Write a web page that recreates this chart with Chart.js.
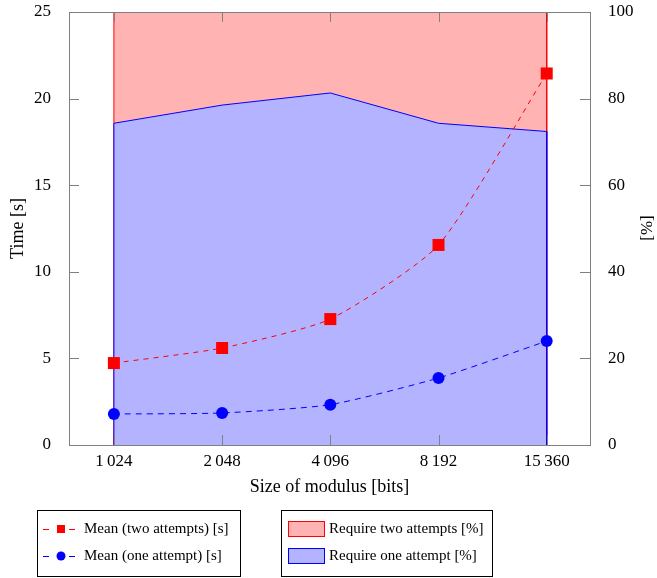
<!DOCTYPE html>
<html>
<head>
<meta charset="utf-8">
<script src="https://cdn.jsdelivr.net/npm/chart.js@4.4.1/dist/chart.umd.min.js"></script>
<style>
  html, body { margin: 0; padding: 0; background: #fff; }
  #wrap { width: 657px; height: 578px; position: relative; }
</style>
</head>
<body>
<div id="wrap"><canvas id="timeChart"></canvas></div>
<script>
// Data
const modulusSizes = ['1\u2009024', '2\u2009048', '4\u2009096', '8\u2009192', '15\u2009360'];
const meanTwoAttempts = [4.73, 5.6, 7.27, 11.55, 21.45];   // [s]
const meanOneAttempt = [1.79, 1.85, 2.33, 3.87, 6.0];      // [s]
const pctOneAttempt = [74.3, 78.5, 81.3, 74.3, 72.4];      // [%]
const pctTwoAttempts = [25.7, 21.5, 18.7, 25.7, 27.6];     // [%]
const timeTicks = [0, 5, 10, 15, 20, 25];
const pctTicks = [0, 20, 40, 60, 80, 100];

// Colors
const red = '#ff0000';
const blue = '#0000ff';
const redFill = '#ffb3b3';
const blueFill = '#b3b3ff';
const axisGray = '#808080';
const serif = "'Liberation Serif', 'DejaVu Serif', serif";

const idx = modulusSizes.map((_, i) => i);

// closed outline (vertical sides at first / last category) for the percent areas
function areaPoints(tops) {
    const pts = [{ x: 0, y: 0 }];
    tops.forEach((v, i) => pts.push({ x: i, y: v }));
    pts.push({ x: tops.length - 1, y: 0 });
    return pts;
}
const stackedTop = pctOneAttempt.map((v, i) => v + pctTwoAttempts[i]);

// keep the plot box where the reference has it
function fixVertical(width) {
    return (scale) => {
        scale.width = width;
        scale.paddingTop = 0;
        scale.paddingBottom = 0;
    };
}

// pgfplots-like frame, inward ticks and legend boxes
const framePlugin = {
    id: 'frame',
    afterDatasetsDraw(chart) {
        const { ctx, chartArea: a, scales } = chart;
        ctx.save();
        ctx.strokeStyle = axisGray;
        ctx.lineWidth = 1;
        ctx.beginPath();
        const tl = 10;
        idx.forEach(v => {
            const x = Math.round(scales.x.getPixelForValue(v)) + 0.5;
            ctx.moveTo(x, a.bottom); ctx.lineTo(x, a.bottom - tl);
            ctx.moveTo(x, a.top); ctx.lineTo(x, a.top + tl);
        });
        timeTicks.forEach(v => {
            const y = Math.round(scales.y.getPixelForValue(v)) + 0.5;
            ctx.moveTo(a.left, y); ctx.lineTo(a.left + tl, y);
        });
        pctTicks.forEach(v => {
            const y = Math.round(scales.y2.getPixelForValue(v)) + 0.5;
            ctx.moveTo(a.right, y); ctx.lineTo(a.right - tl, y);
        });
        ctx.stroke();
        ctx.strokeRect(Math.round(a.left) + 0.5, Math.round(a.top) + 0.5,
            Math.round(a.right - a.left), Math.round(a.bottom - a.top));
        ctx.restore();
    },
    afterDraw(chart) {
        const { ctx } = chart;
        ctx.save();
        // right axis title
        ctx.fillStyle = '#000';
        ctx.font = '17px ' + serif;
        ctx.textAlign = 'center';
        ctx.textBaseline = 'middle';
        ctx.translate(648, 228);
        ctx.rotate(-Math.PI / 2);
        ctx.fillText('[%]', 0, 0);
        ctx.setTransform(1, 0, 0, 1, 0, 0);

        // legend boxes
        ctx.font = '15px ' + serif;
        ctx.strokeStyle = '#000';
        ctx.lineWidth = 1;
        ctx.strokeRect(37.5, 510.5, 203, 66);
        ctx.strokeRect(281.5, 510.5, 211, 66);
        ctx.textAlign = 'left';
        const rows = [529, 556];
        const lines = [
            { label: chart.data.datasets[0].label, color: red, style: 'rect' },
            { label: chart.data.datasets[1].label, color: blue, style: 'circle' }
        ];
        lines.forEach((l, i) => {
            const y = rows[i];
            ctx.strokeStyle = l.color;
            ctx.fillStyle = l.color;
            ctx.beginPath();
            ctx.moveTo(43, y + 0.5); ctx.lineTo(49, y + 0.5);
            ctx.moveTo(69, y + 0.5); ctx.lineTo(75, y + 0.5);
            ctx.stroke();
            ctx.beginPath();
            if (l.style === 'rect') ctx.rect(57, y - 4, 8, 8);
            else ctx.arc(61, y, 4.5, 0, Math.PI * 2);
            ctx.fill();
            ctx.fillStyle = '#000';
            ctx.fillText(l.label, 84, y);
        });
        const areas = [
            { label: chart.data.datasets[3].label, fill: redFill, color: red },
            { label: chart.data.datasets[2].label, fill: blueFill, color: blue }
        ];
        areas.forEach((l, i) => {
            const y = rows[i];
            ctx.fillStyle = l.fill;
            ctx.strokeStyle = l.color;
            ctx.fillRect(288.5, y - 7.5, 36, 15);
            ctx.strokeRect(288.5, y - 7.5, 36, 15);
            ctx.fillStyle = '#000';
            ctx.fillText(l.label, 329, y);
        });
        ctx.restore();
    }
};

new Chart(document.getElementById('timeChart').getContext('2d'), {
    type: 'line',
    data: {
        datasets: [
            {
                label: 'Mean (two attempts) [s]',
                data: meanTwoAttempts.map((v, i) => ({ x: i, y: v })),
                yAxisID: 'y',
                borderColor: red,
                backgroundColor: red,
                borderWidth: 1,
                borderDash: [5, 5],
                tension: 0.2,
                pointStyle: 'rect',
                pointRadius: 8.5,
                pointBorderWidth: 0,
                fill: false,
                order: 0
            },
            {
                label: 'Mean (one attempt) [s]',
                data: meanOneAttempt.map((v, i) => ({ x: i, y: v })),
                yAxisID: 'y',
                borderColor: blue,
                backgroundColor: blue,
                borderWidth: 1,
                borderDash: [6, 5],
                tension: 0.2,
                pointStyle: 'circle',
                pointRadius: 6,
                pointBorderWidth: 0,
                fill: false,
                order: 0
            },
            {
                label: 'Require one attempt [%]',
                data: areaPoints(pctOneAttempt),
                yAxisID: 'y2',
                borderColor: blue,
                backgroundColor: blueFill,
                borderWidth: 1,
                pointRadius: 0,
                tension: 0,
                fill: 'origin',
                order: 1
            },
            {
                label: 'Require two attempts [%]',
                data: areaPoints(stackedTop),
                yAxisID: 'y2',
                borderColor: red,
                backgroundColor: redFill,
                borderWidth: 1,
                pointRadius: 0,
                tension: 0,
                fill: 'origin',
                order: 2
            }
        ]
    },
    options: {
        responsive: true,
        maintainAspectRatio: false,
        animation: false,
        layout: { padding: { top: 12, bottom: 80, left: 0, right: 0 } },
        plugins: {
            legend: { display: false },
            title: { display: false },
            tooltip: { enabled: false }
        },
        scales: {
            x: {
                type: 'linear',
                min: -0.415,
                max: 4.4,
                afterBuildTicks: (scale) => { scale.ticks = idx.map(v => ({ value: v })); },
                afterFit: (scale) => { scale.height = 53; },
                grid: { display: false },
                border: { display: false },
                ticks: {
                    color: '#000',
                    padding: -2,
                    font: { family: serif, size: 17 },
                    callback: (v) => modulusSizes[v]
                },
                title: {
                    display: true,
                    text: 'Size of modulus [bits]',
                    color: '#000',
                    font: { family: serif, size: 18 },
                    padding: 0
                }
            },
            y: {
                position: 'left',
                min: 0,
                max: 25,
                afterBuildTicks: (scale) => { scale.ticks = timeTicks.map(v => ({ value: v })); },
                afterFit: fixVertical(69),
                grid: { display: false },
                border: { display: false },
                ticks: {
                    color: '#000',
                    padding: 10,
                    font: { family: serif, size: 17 }
                },
                title: {
                    display: true,
                    text: 'Time [s]',
                    color: '#000',
                    font: { family: serif, size: 18 },
                    padding: { top: 7, bottom: 0 }
                }
            },
            y2: {
                position: 'right',
                min: 0,
                max: 100,
                afterBuildTicks: (scale) => { scale.ticks = pctTicks.map(v => ({ value: v })); },
                afterFit: fixVertical(67),
                grid: { display: false },
                border: { display: false },
                ticks: {
                    color: '#000',
                    padding: 10,
                    font: { family: serif, size: 17 }
                }
            }
        }
    },
    plugins: [framePlugin]
});
</script>
</body>
</html>
